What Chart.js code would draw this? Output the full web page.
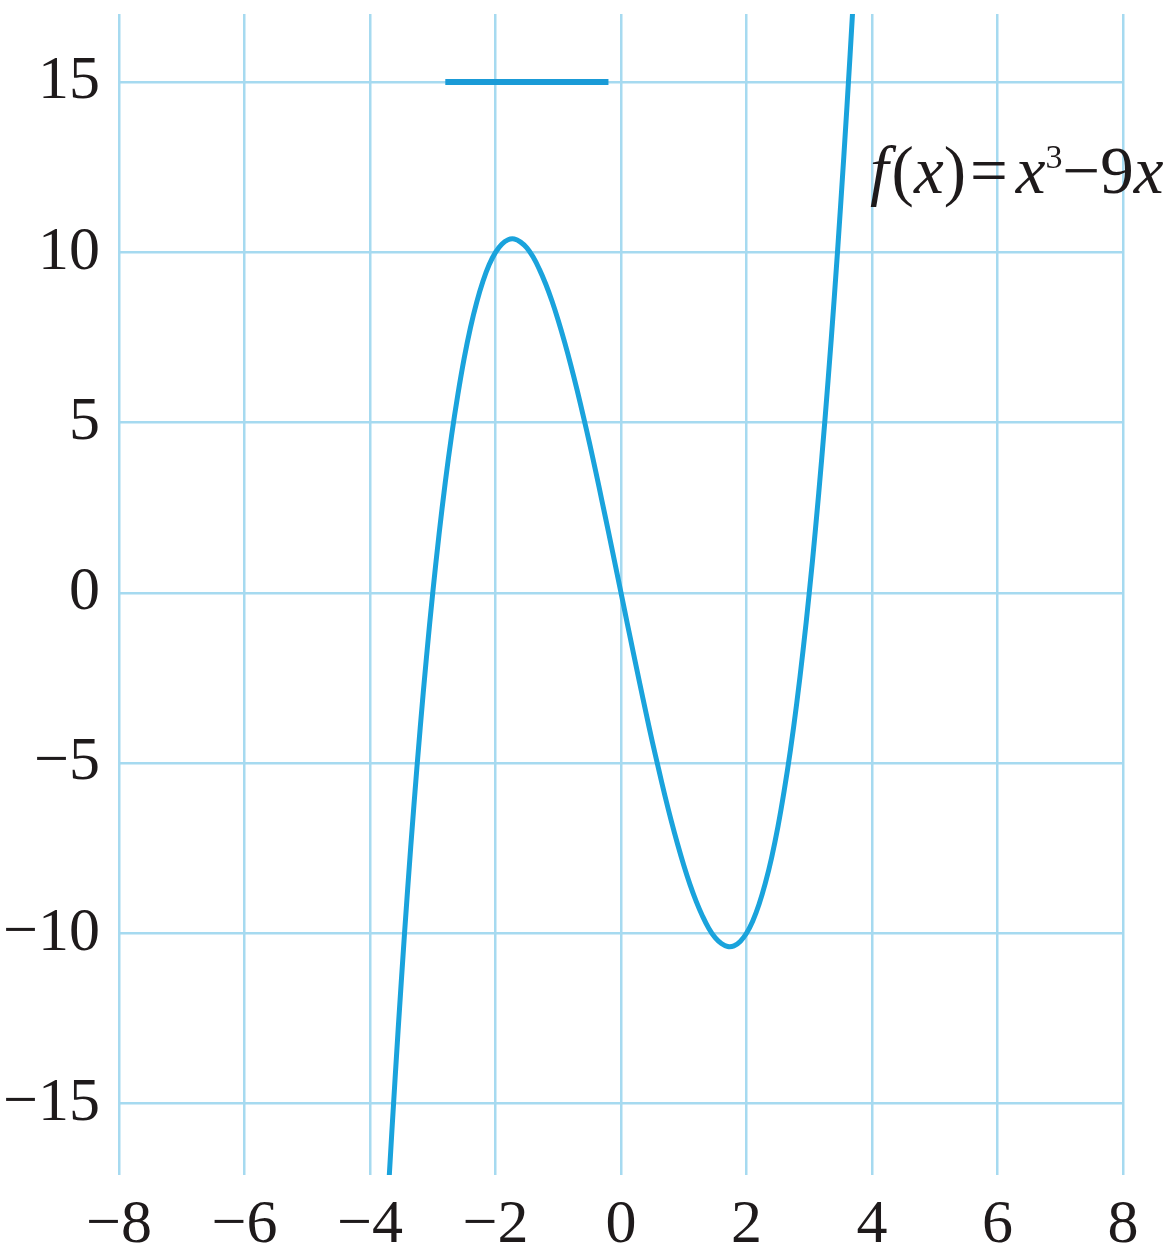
<!DOCTYPE html>
<html>
<head>
<meta charset="utf-8">
<script src="https://cdn.jsdelivr.net/npm/chart.js@4.4.1/dist/chart.umd.min.js"></script>
<style>
  html, body { margin: 0; padding: 0; background: #ffffff; }
  #wrap { width: 1175px; height: 1251px; }
</style>
</head>
<body>
<div id="wrap"><canvas id="c" width="1175" height="1251"></canvas></div>
<script>
// Curve samples of f(x) = x^3 - 9x
const curveX = [-3.8, -3.7, -3.6, -3.5, -3.4, -3.3, -3.2, -3.1, -3.0, -2.9, -2.8, -2.7, -2.6, -2.5, -2.4, -2.3, -2.2, -2.1, -2.0, -1.9, -1.8, -1.7, -1.6, -1.5, -1.4, -1.3, -1.2, -1.1, -1.0, -0.9, -0.8, -0.7, -0.6, -0.5, -0.4, -0.3, -0.2, -0.1, 0.0, 0.1, 0.2, 0.3, 0.4, 0.5, 0.6, 0.7, 0.8, 0.9, 1.0, 1.1, 1.2, 1.3, 1.4, 1.5, 1.6, 1.7, 1.8, 1.9, 2.0, 2.1, 2.2, 2.3, 2.4, 2.5, 2.6, 2.7, 2.8, 2.9, 3.0, 3.1, 3.2, 3.3, 3.4, 3.5, 3.6, 3.7, 3.8];
const curveY = [-20.67, -17.35, -14.26, -11.38, -8.70, -6.24, -3.97, -1.89, 0.00, 1.71, 3.25, 4.62, 5.82, 6.88, 7.78, 8.53, 9.15, 9.64, 10.00, 10.24, 10.37, 10.39, 10.30, 10.13, 9.86, 9.50, 9.07, 8.57, 8.00, 7.37, 6.69, 5.96, 5.18, 4.38, 3.54, 2.67, 1.79, 0.90, 0.00, -0.90, -1.79, -2.67, -3.54, -4.38, -5.18, -5.96, -6.69, -7.37, -8.00, -8.57, -9.07, -9.50, -9.86, -10.13, -10.30, -10.39, -10.37, -10.24, -10.00, -9.64, -9.15, -8.53, -7.78, -6.88, -5.82, -4.62, -3.25, -1.71, 0.00, 1.89, 3.97, 6.24, 8.70, 11.38, 14.26, 17.35, 20.67];

// Short horizontal marker segment
const markX = [-2.8, -0.2];
const markY = [15, 15];

// Tick labels
const xTicks = [-8, -6, -4, -2, 0, 2, 4, 6, 8];
const yTicks = [-15, -10, -5, 0, 5, 10, 15];

const fmt = v => (v < 0 ? '\u2212' + Math.abs(v) : String(v));

const curvePts = curveX.map((x, i) => ({ x: x, y: curveY[i] }));
const markPts = markX.map((x, i) => ({ x: x, y: markY[i] }));

const GRID = '#a6daf0';
const CURVE = '#1aa3dc';
const INK = '#1e1a1b';
const SERIF = '"Liberation Serif", "Times New Roman", serif';

// Formula label drawn piece by piece (italic variables, upright operators)
const formulaLabel = {
  id: 'formulaLabel',
  afterDraw(chart) {
    const ctx = chart.ctx;
    const size = 67;
    const base = 193;
    const parts = [
      { t: 'f', it: true, gap: 3 },
      { t: '(', it: false, gap: 0 },
      { t: 'x', it: true, gap: 0 },
      { t: ')', it: false, gap: 4 },
      { t: '=', it: false, gap: 8 },
      { t: 'x', it: true, gap: 0 },
      { t: '3', it: false, sup: true, gap: 0 },
      { t: '\u2212', it: false, gap: 0 },
      { t: '9', it: false, gap: 0 },
      { t: 'x', it: true, gap: 0 }
    ];
    ctx.save();
    ctx.fillStyle = INK;
    ctx.textBaseline = 'alphabetic';
    ctx.textAlign = 'left';
    let x = 870;
    for (const p of parts) {
      const fs = p.sup ? Math.round(size * 0.5) : size;
      ctx.font = (p.it ? 'italic ' : '') + fs + 'px ' + SERIF;
      const y = p.sup ? base - 25 : base;
      ctx.fillText(p.t, x, y);
      x += ctx.measureText(p.t).width + p.gap;
    }
    ctx.restore();
  }
};

new Chart(document.getElementById('c'), {
  type: 'scatter',
  data: {
    datasets: [
      {
        data: curvePts,
        showLine: true,
        borderColor: CURVE,
        borderWidth: 5,
        pointRadius: 0,
        tension: 0.4,
        fill: false
      },
      {
        data: markPts,
        showLine: true,
        borderColor: '#1a9bd7',
        borderWidth: 6,
        pointRadius: 0,
        tension: 0,
        fill: false
      }
    ]
  },
  options: {
    responsive: false,
    animation: false,
    devicePixelRatio: 1,
    layout: { padding: { top: 14, right: 52, left: 0, bottom: 0 } },
    plugins: {
      legend: { display: false },
      tooltip: { enabled: false }
    },
    scales: {
      x: {
        type: 'linear',
        min: -8,
        max: 8,
        afterBuildTicks: s => { s.ticks = xTicks.map(v => ({ value: v })); },
        afterFit: s => { s.height = 76; s.paddingLeft = 0; s.paddingRight = 0; },
        border: { display: false },
        grid: { color: GRID, lineWidth: 2.5, drawTicks: false },
        ticks: {
          padding: 14,
          color: INK,
          font: { family: SERIF, size: 62 },
          callback: v => fmt(v)
        }
      },
      y: {
        type: 'linear',
        min: -17.1,
        max: 17,
        afterBuildTicks: s => { s.ticks = yTicks.map(v => ({ value: v })); },
        afterFit: s => { s.width = 119; s.paddingTop = 0; s.paddingBottom = 0; },
        border: { display: false },
        grid: { color: GRID, lineWidth: 2.5, drawTicks: false },
        ticks: {
          padding: 19,
          color: INK,
          font: { family: SERIF, size: 62 },
          callback: v => fmt(v)
        }
      }
    }
  },
  plugins: [formulaLabel]
});
</script>
</body>
</html>
